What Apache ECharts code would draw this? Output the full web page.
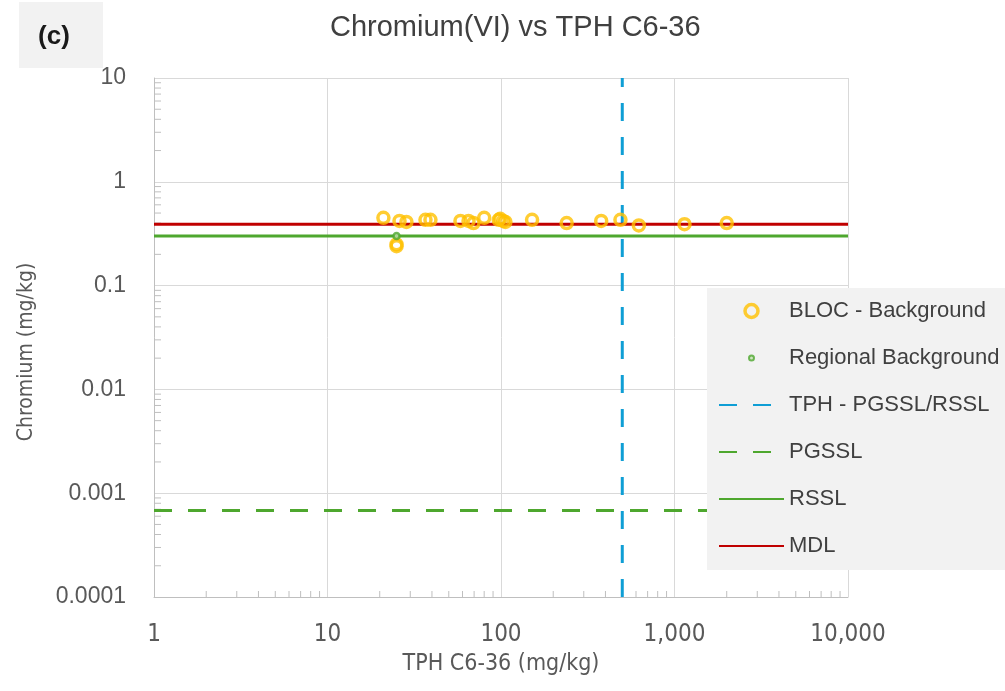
<!DOCTYPE html>
<html>
<head>
<meta charset="utf-8">
<style>
  html, body { margin: 0; padding: 0; background: #fff; }
  #chart { width: 1005px; height: 691px; }
</style>
<script src="https://cdn.jsdelivr.net/npm/echarts@6/dist/echarts.min.js"></script>
</head>
<body>
<div id="chart"></div>
<script>
  // BLOC - Background samples: TPH C6-36 (mg/kg) vs Chromium(VI) (mg/kg)
  var blocTph = [21, 26, 28.5, 36.7, 39.2, 58.4, 65, 69.4, 80, 97, 99, 103, 106, 151, 239, 378, 488, 623, 1142, 2000, 25, 25];
  var blocCr = [0.45, 0.42, 0.41, 0.43, 0.43, 0.42, 0.42, 0.40, 0.45, 0.43, 0.44, 0.42, 0.41, 0.43, 0.40, 0.42, 0.43, 0.38, 0.39, 0.40, 0.25, 0.24];

  var regionalTph = [25];
  var regionalCr = [0.3];

  // screening levels
  var tphSl = 500;
  var pgssl = 0.00068;
  var rssl = 0.3;
  var mdl = 0.39;

  var xRange = [1, 10000];
  var yRange = [0.0001, 10];
  var minorFactors = [2, 3, 4, 5, 6, 7, 8, 9];

  var font = 'Liberation Sans';
  var narrow = '"Liberation Sans Narrow", "DejaVu Sans Condensed", "Liberation Sans"';
  var grey = '#595959';

  // legend icons (box corners keep the ring at its own size)
  var ringBig = 'path://M0 0M16 16M1.5 8a6.5 6.5 0 1 0 13 0a6.5 6.5 0 1 0 -13 0Z';
  var ringSmall = 'path://M0 0M16 16M5.5 8a2.5 2.5 0 1 0 5 0a2.5 2.5 0 1 0 -5 0Z';

  function pairs(xs, ys) {
    return xs.map(function (x, i) { return [x, ys[i]]; });
  }

  function minorValues(range) {
    var out = [];
    for (var d = range[0]; d < range[1]; d *= 10) {
      minorFactors.forEach(function (f) { out.push(+(f * d).toPrecision(6)); });
    }
    return out;
  }

  function tickLabel(v) {
    var n = Number(v.toPrecision(6));
    return n >= 1000 ? n.toLocaleString('en-US') : String(n);
  }

  var myChart = echarts.init(document.getElementById('chart'), null, {renderer: 'canvas'});

  var option = {
    backgroundColor: '#ffffff',
    animation: false,
    title: {
      text: 'Chromium(VI) vs TPH C6-36',
      left: 325,
      top: 8,
      textStyle: {fontFamily: font, fontSize: 29, fontWeight: 'normal', color: '#404040'}
    },
    graphic: [
      {
        type: 'rect',
        left: 19, top: 2,
        shape: {width: 84, height: 66},
        style: {fill: '#f2f2f2'},
        z: 0
      },
      {
        type: 'text',
        x: 54, y: 37,
        style: {text: '(c)', font: 'bold 26px ' + font, fill: '#1a1a1a', align: 'center', verticalAlign: 'middle'}
      },
      {
        // y axis title, Excel sets it a little below the plot middle
        type: 'text',
        x: 27, y: 352,
        rotation: Math.PI / 2,
        style: {text: 'Chromium (mg/kg)', font: '21px ' + narrow, fill: grey, align: 'center', verticalAlign: 'middle'}
      }
    ],
    grid: {left: 154, right: 157, top: 78, bottom: 94},
    legend: {
      orient: 'vertical',
      left: 707,
      top: 288,
      padding: [12, 14, 13, 11],
      itemWidth: 65,
      itemHeight: 16,
      itemGap: 25,
      backgroundColor: '#f2f2f2',
      textStyle: {fontFamily: font, fontSize: 22, color: '#404040'},
      data: [
        {name: 'BLOC - Background', icon: ringBig, itemStyle: {color: 'rgba(255,255,255,0)', borderColor: '#FFC000', borderWidth: 3.5}},
        {name: 'Regional Background', icon: ringSmall, itemStyle: {color: '#c5e0b4', borderColor: '#4EA72E', borderWidth: 2}},
        {name: 'TPH - PGSSL/RSSL', itemStyle: {opacity: 0}},
        {name: 'PGSSL', itemStyle: {opacity: 0}},
        {name: 'RSSL', itemStyle: {opacity: 0}},
        {name: 'MDL', itemStyle: {opacity: 0}}
      ]
    },
    xAxis: {
      type: 'log',
      logBase: 10,
      min: xRange[0],
      max: xRange[1],
      name: 'TPH C6-36 (mg/kg)',
      nameLocation: 'middle',
      nameGap: 56,
      nameTextStyle: {fontFamily: narrow, fontSize: 23, color: grey},
      axisLine: {lineStyle: {color: '#bfbfbf', width: 1}},
      axisTick: {show: false},
      axisLabel: {fontFamily: narrow, fontSize: 24, color: grey, margin: 26, formatter: tickLabel},
      splitLine: {show: true, lineStyle: {color: '#d9d9d9', width: 1}}
    },
    yAxis: {
      type: 'log',
      logBase: 10,
      min: yRange[0],
      max: yRange[1],
      axisLine: {show: true, lineStyle: {color: '#bfbfbf', width: 1}},
      axisTick: {show: false},
      axisLabel: {fontFamily: font, fontSize: 23, color: grey, margin: 28, formatter: tickLabel},
      splitLine: {show: true, lineStyle: {color: '#d9d9d9', width: 1}}
    },
    series: [
      {
        name: 'minor-x',
        type: 'custom',
        silent: true,
        clip: false,
        z: 1,
        data: minorValues(xRange).map(function (v) { return [v, yRange[0]]; }),
        renderItem: function (params, api) {
          var p = api.coord([api.value(0), api.value(1)]);
          return {type: 'line', shape: {x1: p[0], y1: p[1], x2: p[0], y2: p[1] - 6}, style: {stroke: '#bfbfbf', lineWidth: 1}};
        }
      },
      {
        name: 'minor-y',
        type: 'custom',
        silent: true,
        clip: false,
        z: 1,
        data: minorValues(yRange).map(function (v) { return [xRange[0], v]; }),
        renderItem: function (params, api) {
          var p = api.coord([api.value(0), api.value(1)]);
          return {type: 'line', shape: {x1: p[0], y1: p[1], x2: p[0] + 7, y2: p[1]}, style: {stroke: '#bfbfbf', lineWidth: 1}};
        }
      },
      {
        name: 'TPH - PGSSL/RSSL',
        type: 'line',
        symbol: 'none',
        color: '#0F9ED5',
        lineStyle: {color: '#0F9ED5', width: 3, type: [18, 16]},
        data: [[tphSl, yRange[0]], [tphSl, yRange[1]]],
        z: 3
      },
      {
        name: 'PGSSL',
        type: 'line',
        symbol: 'none',
        color: '#4EA72E',
        lineStyle: {color: '#4EA72E', width: 3, type: [18, 16]},
        data: [[xRange[0], pgssl], [xRange[1], pgssl]],
        z: 3
      },
      {
        name: 'RSSL',
        type: 'line',
        symbol: 'none',
        color: '#4EA72E',
        lineStyle: {color: '#4EA72E', width: 3},
        data: [[xRange[0], rssl], [xRange[1], rssl]],
        z: 3
      },
      {
        name: 'MDL',
        type: 'line',
        symbol: 'none',
        color: '#C00000',
        lineStyle: {color: '#C00000', width: 3},
        data: [[xRange[0], mdl], [xRange[1], mdl]],
        z: 3
      },
      {
        name: 'BLOC - Background',
        type: 'scatter',
        symbol: 'circle',
        symbolSize: 11,
        itemStyle: {color: 'rgba(255,255,255,0)', borderColor: '#FFC000', borderWidth: 3.5},
        data: pairs(blocTph, blocCr),
        z: 4
      },
      {
        name: 'Regional Background',
        type: 'scatter',
        symbol: 'circle',
        symbolSize: 6,
        itemStyle: {color: '#c5e0b4', borderColor: '#4EA72E', borderWidth: 2.5},
        data: pairs(regionalTph, regionalCr),
        z: 5
      }
    ]
  };

  myChart.setOption(option);
</script>
</body>
</html>
